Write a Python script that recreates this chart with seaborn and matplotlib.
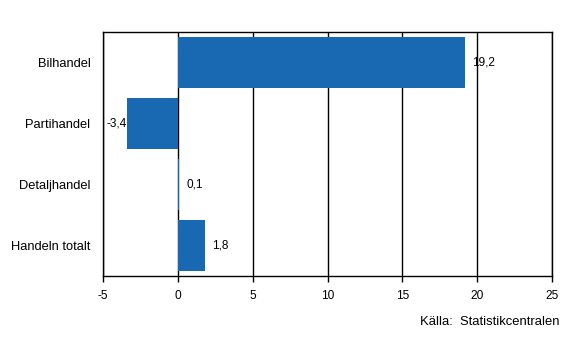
import matplotlib
matplotlib.use("Agg")
import matplotlib.pyplot as plt
import seaborn as sns
import pandas as pd

categories = ["Bilhandel", "Partihandel", "Detaljhandel", "Handeln totalt"]
values = [19.2, -3.4, 0.1, 1.8]
value_labels = ["19,2", "-3,4", "0,1", "1,8"]
xticks = [-5, 0, 5, 10, 15, 20, 25]

sns.set_theme(style="white")
plt.rcParams['font.family'] = ['Liberation Sans', 'DejaVu Sans']
plt.rcParams['text.color'] = 'black'
plt.rcParams['xtick.color'] = 'black'
plt.rcParams['ytick.color'] = 'black'

df = pd.DataFrame({"cat": categories, "val": values})

fig = plt.figure(figsize=(5.67, 3.62), dpi=100)
ax = fig.add_axes([103/567, 1 - 276/362, (552-103)/567, (276-32)/362])

sns.barplot(data=df, y="cat", x="val", orient="h", color="#1868B2",
            saturation=1, width=0.84, linewidth=0, ax=ax, zorder=2)

ax.set_xlim(-5, 25)
ax.set_xticks(xticks)
ax.set_xticklabels([str(t) for t in xticks], fontsize=8.6)
ax.set_ylabel("")
ax.set_xlabel("")
ax.tick_params(axis='y', labelsize=9.3, length=0, pad=9)
ax.tick_params(axis='x', length=4, width=1, color='black', direction='out', pad=6, bottom=True)
for t in xticks:
    ax.axvline(t, color='black', lw=1, zorder=1)
for s in ax.spines.values():
    s.set_visible(True)
    s.set_color('black')
    s.set_linewidth(1)

for i, (v, lab) in enumerate(zip(values, value_labels)):
    if v >= 0:
        ax.annotate(lab, (v, i), xytext=(5, 0), textcoords='offset points',
                    ha='left', va='center', fontsize=8.5)
    else:
        ax.annotate(lab, (v, i), xytext=(0, 0), textcoords='offset points',
                    ha='right', va='center', fontsize=8.5)

fig.text(560/567, 1 - 322/362, "Källa:  Statistikcentralen", ha='right', va='center', fontsize=9.4)

fig.savefig("out.png", dpi=100)
